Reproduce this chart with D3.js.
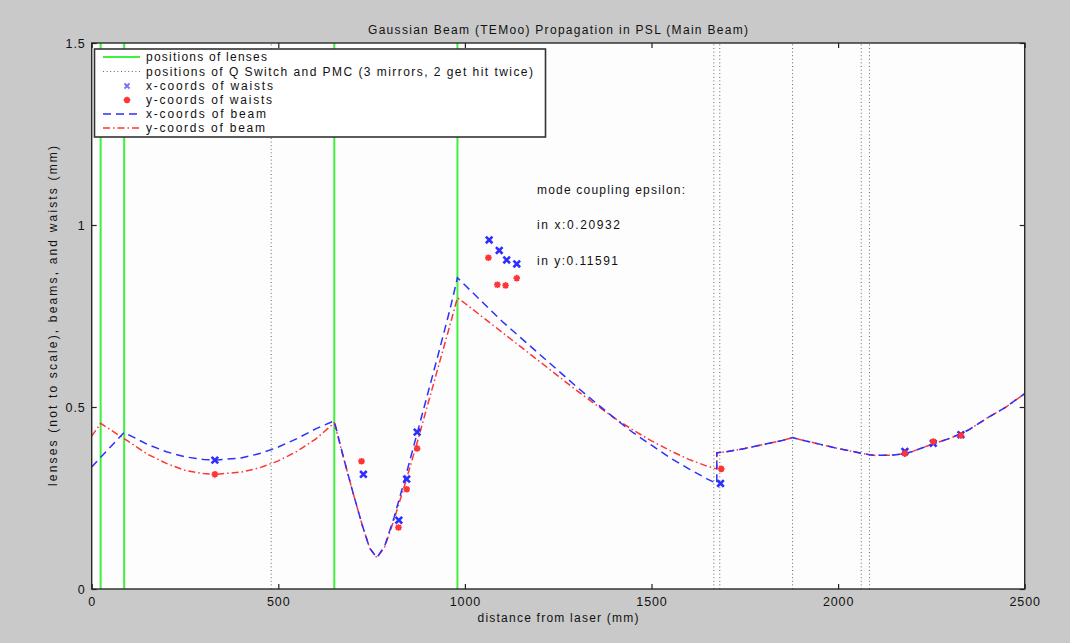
<!DOCTYPE html>
<html><head><meta charset="utf-8">
<script src="https://cdn.jsdelivr.net/npm/d3@7"></script>
<style>
html,body{margin:0;padding:0;background:#c9c9c9;}
svg{display:block;font-family:"Liberation Sans",Arial,Helvetica,sans-serif;}
</style>
</head><body>
<svg id="chart" width="1070" height="643"></svg>
<script>
// ---------------- data ----------------
const xTicks = [0, 500, 1000, 1500, 2000, 2500];
const yTicks = [0, 0.5, 1, 1.5];
const yTickLabels = ["0", "0.5", "1", "1.5"];
const lensPositions = [24, 87, 650, 980];
const mirrorPositions = [481, 1667, 1683, 1878, 2062, 2084];

const waistsX = [[330,0.354],[728,0.315],[823,0.189],[844,0.302],[872,0.431],
  [1065,0.959],[1092,0.930],[1112,0.904],[1139,0.893],[1685,0.290],
  [2179,0.378],[2255,0.400],[2329,0.424]];
const waistsY = [[330,0.315],[723,0.351],[822,0.169],[844,0.274],[872,0.386],
  [1063,0.910],[1087,0.836],[1109,0.834],[1139,0.854],[1687,0.330],
  [2179,0.372],[2255,0.405],[2329,0.422]];

const beamX = [[0,0.335],[24,0.362],[87,0.430],[150,0.397],[200,0.377],[250,0.363],[300,0.356],[330,0.354],
  [400,0.360],[450,0.372],[500,0.390],[550,0.413],[600,0.440],[650,0.462],[675,0.360],[700,0.265],
  [725,0.175],[745,0.112],[764,0.086],[785,0.118],[810,0.196],[840,0.305],[870,0.420],[900,0.535],
  [930,0.650],[960,0.768],[980,0.855],[1000,0.835],[1050,0.785],[1100,0.735],[1150,0.690],[1200,0.645],
  [1250,0.600],[1300,0.555],[1350,0.512],[1400,0.470],[1450,0.430],[1500,0.395],[1550,0.360],[1600,0.330],
  [1650,0.302],[1675,0.290],[1675,0.374],[1700,0.377],[1750,0.386],[1800,0.397],[1850,0.408],[1878,0.416],
  [1900,0.410],[1950,0.398],[2000,0.386],[2062,0.373],[2084,0.369],[2100,0.367],[2150,0.368],[2180,0.372],
  [2200,0.378],[2250,0.397],[2300,0.414],[2350,0.437],[2400,0.470],[2450,0.500],[2500,0.537]];
const beamY = [[0,0.420],[24,0.455],[87,0.413],[150,0.370],[200,0.345],[250,0.326],[300,0.317],[330,0.315],
  [400,0.321],[450,0.333],[500,0.352],[550,0.378],[600,0.412],[650,0.456],[675,0.360],[700,0.265],
  [725,0.175],[745,0.112],[764,0.086],[785,0.115],[810,0.190],[840,0.290],[870,0.395],[900,0.505],
  [930,0.615],[960,0.725],[980,0.800],[1000,0.785],[1050,0.745],[1100,0.705],[1150,0.665],[1200,0.625],
  [1250,0.585],[1300,0.545],[1350,0.507],[1400,0.470],[1450,0.437],[1500,0.407],[1550,0.380],[1600,0.356],
  [1650,0.337],[1675,0.330],[1675,0.374],[1700,0.377],[1750,0.386],[1800,0.397],[1850,0.408],[1878,0.416],
  [1900,0.410],[1950,0.398],[2000,0.386],[2062,0.373],[2084,0.369],[2100,0.367],[2150,0.368],[2180,0.372],
  [2200,0.378],[2250,0.397],[2300,0.414],[2350,0.437],[2400,0.470],[2450,0.500],[2500,0.537]];

const titleText = "Gaussian Beam (TEMoo) Propagation in PSL (Main Beam)";
const xLabelText = "distance from laser (mm)";
const yLabelText = "lenses (not to scale), beams, and waists (mm)";
const legendLabels = ["positions of lenses",
  "positions of Q Switch and PMC (3 mirrors, 2 get hit twice)",
  "x-coords of waists", "y-coords of waists", "x-coords of beam", "y-coords of beam"];
const noteLines = ["mode coupling epsilon:", "in x:0.20932", "in y:0.11591"];

// ---------------- layout / styles ----------------
const L = 91.7, R = 1024.7, T = 43, B = 589;
const BLUE = "#2e2eff", RED = "#ff3434", GREEN = "#3ff03f", TXT = "#111";
const FS = 12;

const svg = d3.select("#chart");
svg.append("rect").attr("width", 1070).attr("height", 643).attr("fill", "#c9c9c9");

const x = d3.scaleLinear().domain([0, 2500]).range([L, R]);
const y = d3.scaleLinear().domain([0, 1.5]).range([B, T]);

svg.append("rect").attr("x", L).attr("y", T).attr("width", R - L).attr("height", B - T).attr("fill", "#fdfdfd");

// lenses & mirrors
svg.append("g").selectAll("line").data(lensPositions).join("line")
  .attr("x1", d => x(d)).attr("x2", d => x(d)).attr("y1", y(0)).attr("y2", y(1.5))
  .attr("stroke", GREEN).attr("stroke-width", 2);
svg.append("g").selectAll("line").data(mirrorPositions).join("line")
  .attr("x1", d => x(d)).attr("x2", d => x(d)).attr("y1", y(0)).attr("y2", y(1.5))
  .attr("stroke", "#666").attr("stroke-width", 1).attr("stroke-dasharray", "1,2.6");

// beams
const line = d3.line().x(d => x(d[0])).y(d => y(d[1]));
svg.append("path").datum(beamY).attr("d", line).attr("fill", "none")
  .attr("stroke", RED).attr("stroke-width", 1.5).attr("stroke-dasharray", "7,3,1.5,3");
svg.append("path").datum(beamX).attr("d", line).attr("fill", "none")
  .attr("stroke", BLUE).attr("stroke-width", 1.5).attr("stroke-dasharray", "8,5");

// markers
function xMark(sel, s, c, w) {
  sel.append("path").attr("d", `M${-s},${-s}L${s},${s}M${-s},${s}L${s},${-s}`)
    .attr("stroke", c).attr("stroke-width", w).attr("fill", "none");
}
function starMark(sel, s, c, w) {
  const d = s * 0.72;
  sel.append("path").attr("d", `M${-s},0L${s},0M0,${-s}L0,${s}M${-d},${-d}L${d},${d}M${-d},${d}L${d},${-d}`)
    .attr("stroke", c).attr("stroke-width", w).attr("fill", "none");
}
svg.append("g").selectAll("g").data(waistsX).join("g")
  .attr("transform", d => `translate(${x(d[0])},${y(d[1])})`)
  .each(function () { xMark(d3.select(this), 3.3, BLUE, 2.6); });
svg.append("g").selectAll("g").data(waistsY).join("g")
  .attr("transform", d => `translate(${x(d[0])},${y(d[1])})`)
  .each(function () { starMark(d3.select(this), 3.3, RED, 1.8); });

// axes frame & ticks
svg.append("rect").attr("x", L).attr("y", T).attr("width", R - L).attr("height", B - T)
  .attr("fill", "none").attr("stroke", "#2a2a2a").attr("stroke-width", 1.4);

const gx = svg.append("g").attr("transform", `translate(0,${B})`)
  .call(d3.axisBottom(x).tickValues(xTicks).tickSizeInner(-5).tickSizeOuter(0).tickPadding(10).tickFormat(d3.format("d")));
const gxt = svg.append("g").attr("transform", `translate(0,${T})`)
  .call(d3.axisTop(x).tickValues(xTicks).tickSizeInner(-5).tickSizeOuter(0).tickFormat(""));
const gy = svg.append("g").attr("transform", `translate(${L},0)`)
  .call(d3.axisLeft(y).tickValues(yTicks).tickSizeInner(-5).tickSizeOuter(0).tickPadding(6)
    .tickFormat((d, i) => yTickLabels[i]));
const gyr = svg.append("g").attr("transform", `translate(${R},0)`)
  .call(d3.axisRight(y).tickValues(yTicks).tickSizeInner(-5).tickSizeOuter(0).tickFormat(""));
[gx, gxt, gy, gyr].forEach(g => {
  g.select(".domain").remove();
  g.selectAll(".tick line").attr("stroke", "#222").attr("stroke-width", 1.2);
  g.selectAll("text").attr("fill", TXT).attr("font-size", FS + 0.5)
    .attr("font-family", '"Liberation Sans",Arial,sans-serif').attr("letter-spacing", 0.9);
});
gx.selectAll("text").attr("dy", "0.71em").attr("y", 8);

// titles
function txt(str, px, py, len, anchor) {
  return svg.append("text").attr("x", px).attr("y", py).attr("font-size", FS).attr("fill", TXT)
    .attr("text-anchor", anchor || "start").attr("textLength", len).attr("lengthAdjust", "spacing").text(str);
}
txt(titleText, 558, 34, 380, "middle");
txt(xLabelText, 558, 622, 161, "middle");
svg.append("text").attr("transform", "translate(57,316) rotate(-90)").attr("font-size", FS).attr("fill", TXT)
  .attr("text-anchor", "middle").attr("textLength", 340).attr("lengthAdjust", "spacing").text(yLabelText);

// annotation
const noteLens = [148, 83, 81];
const noteY = [194, 229, 265];
noteLines.forEach((s, i) => txt(s, 537, noteY[i], noteLens[i]));

// legend
const lg = svg.append("g");
lg.append("rect").attr("x", 94.5).attr("y", 49).attr("width", 451).attr("height", 88)
  .attr("fill", "#fff").attr("stroke", "#333").attr("stroke-width", 1.6);
const rowY = [57, 71.5, 86, 100, 114, 128];
const legLens = [121, 387, 127, 126, 120, 119];
legendLabels.forEach((s, i) => txt(s, 146, rowY[i] + 4, legLens[i]));
lg.append("line").attr("x1", 103).attr("x2", 140).attr("y1", rowY[0]).attr("y2", rowY[0])
  .attr("stroke", GREEN).attr("stroke-width", 2);
lg.append("line").attr("x1", 103).attr("x2", 140).attr("y1", rowY[1]).attr("y2", rowY[1])
  .attr("stroke", "#666").attr("stroke-width", 1).attr("stroke-dasharray", "1,2.6");
xMark(lg.append("g").attr("transform", `translate(127,${rowY[2]})`), 2.5, "#7070ff", 1.8);
starMark(lg.append("g").attr("transform", `translate(127,${rowY[3]})`), 3.3, RED, 1.8);
lg.append("line").attr("x1", 103).attr("x2", 140).attr("y1", rowY[4]).attr("y2", rowY[4])
  .attr("stroke", BLUE).attr("stroke-width", 1.5).attr("stroke-dasharray", "8,5");
lg.append("line").attr("x1", 103).attr("x2", 140).attr("y1", rowY[5]).attr("y2", rowY[5])
  .attr("stroke", RED).attr("stroke-width", 1.5).attr("stroke-dasharray", "7,3,1.5,3");
</script>
</body></html>
